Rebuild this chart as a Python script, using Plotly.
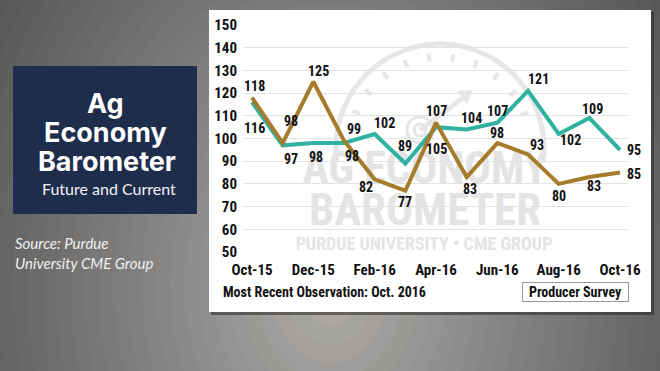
import plotly.graph_objects as go
import numpy as np

# ---------------- data ----------------
months = ["Oct-15", "Nov-15", "Dec-15", "Jan-16", "Feb-16", "Mar-16", "Apr-16",
          "May-16", "Jun-16", "Jul-16", "Aug-16", "Sep-16", "Oct-16"]
current = [118, 98, 125, 99, 82, 77, 107, 83, 98, 93, 80, 83, 85]
future = [116, 97, 98, 98, 102, 89, 105, 104, 107, 121, 102, 109, 95]
tick_labels = ["Oct-15", "Dec-15", "Feb-16", "Apr-16", "Jun-16", "Aug-16", "Oct-16"]
y_ticks = [50, 60, 70, 80, 90, 100, 110, 120, 130, 140, 150]

# label offsets in pixels (dx, dy-down), styling only
current_off = [(3, -12), (8, -22), (5, -11), (10, -12), (-9, 8), (0, 11), (0, -12),
               (3, 12), (0, -10), (9, -9), (0, 12), (5, 9), (14, 1)]
future_off = [(3, 26), (8, 14), (3, 14), (8, 13), (10, -11), (0, -17), (0, 22),
              (5, -11), (0, -12), (10, -12), (12, 6), (3, -9), (14, 0)]

TEAL = "#2fb3a0"
BROWN = "#a67c2c"
COND = "Liberation Sans Narrow, Roboto Condensed, DejaVu Sans Condensed, Roboto, sans-serif"

W, H = 660, 371
L, R, T, B = 243, 32, 25, 119
PW, PH = W - L - R, H - T - B
XR = [-0.293, 12.26]
YR = [50, 150]


def px(x):
    return (x - L) / PW


def py(y):
    return 1 - (y - T) / PH


def xd(x):
    return XR[0] + (x - L) / PW * (XR[1] - XR[0])


def yd(y):
    return YR[1] - (y - T) / PH * (YR[1] - YR[0])


xs = list(range(len(months)))

fig = go.Figure()

# watermark text (behind lines)
fig.add_trace(go.Scatter(
    x=[xd(425), xd(425), xd(424)], y=[yd(172), yd(214), yd(245)],
    text=["<b>AG ECONOMY</b>", "<b>BAROMETER</b>", "<b>PURDUE UNIVERSITY • CME GROUP</b>"],
    mode="text", textposition="middle center",
    textfont=dict(family=COND, size=[44, 45, 18], color="#e4e4e4"),
    hoverinfo="skip", showlegend=False, cliponaxis=False))

fig.add_trace(go.Scatter(x=xs, y=future, mode="lines", name="Future",
                         line=dict(color=TEAL, width=4), showlegend=False))
fig.add_trace(go.Scatter(x=xs, y=current, mode="lines", name="Current",
                         line=dict(color=BROWN, width=4), showlegend=False))

annotations = []
for series, offs in ((current, current_off), (future, future_off)):
    for i, v in enumerate(series):
        dx, dy = offs[i]
        annotations.append(dict(x=xs[i], y=v, xref="x", yref="y", text=f"<b>{v}</b>",
                                showarrow=False, xshift=dx, yshift=-dy,
                                xanchor="center", yanchor="middle",
                                font=dict(family=COND, size=14, color="#111")))


def ptext(x, y, text, font, xanchor="center", **kw):
    return dict(x=px(x), y=py(y), xref="paper", yref="paper", text=text, showarrow=False,
                xanchor=xanchor, yanchor="middle", font=font, **kw)


TF = dict(family="Inter, Lato, sans-serif", size=27, color="white")
SF = dict(family="Lato, sans-serif", size=15, color="#f0f0f0")
annotations += [
    ptext(105, 103, "<b>Ag</b>", TF),
    ptext(105, 132, "<b>Economy</b>", TF),
    ptext(107, 161, "<b>Barometer</b>", TF),
    ptext(109, 188, "Future and Current", dict(family="Lato, sans-serif", size=16, color="#f2f2f2")),
    ptext(13, 243, "<i>Source: Purdue</i>", SF, xanchor="left"),
    ptext(13, 263, "<i>University CME Group</i>", SF, xanchor="left"),
    ptext(221, 292, "<b>Most Recent Observation: Oct. 2016</b>",
          dict(family=COND, size=14, color="#111"), xanchor="left"),
    ptext(575.5, 291.7, "<b>Producer Survey</b>", dict(family=COND, size=14, color="#111"),
          width=105, height=18, borderpad=0, borderwidth=1, bordercolor="#9a9a9a", bgcolor="white"),
]

shapes = []
# radial background gradient
inner = np.array([0xb4, 0xb1, 0xae])
outer = np.array([0x52, 0x52, 0x52])
cx, cy, rx, ry = 330, 285, 430, 560
for d in np.linspace(1.5, 0.04, 45):
    t = min(d, 1.0) ** 0.9
    c = (inner * (1 - t) + outer * t).astype(int)
    shapes.append(dict(type="circle", xref="paper", yref="paper", layer="below",
                       x0=px(cx - rx * d), x1=px(cx + rx * d), y0=py(cy + ry * d), y1=py(cy - ry * d),
                       fillcolor=f"rgb({c[0]},{c[1]},{c[2]})", line=dict(width=0)))
# panel shadow and panel
shapes.append(dict(type="rect", xref="paper", yref="paper", layer="below",
                   x0=px(211), x1=px(654), y0=py(315), y1=py(12),
                   fillcolor="rgba(40,40,40,0.55)", line=dict(width=0)))
shapes.append(dict(type="rect", xref="paper", yref="paper", layer="below",
                   x0=px(209), x1=px(651), y0=py(312), y1=py(10),
                   fillcolor="white", line=dict(width=0)))
# navy title box
shapes.append(dict(type="rect", xref="paper", yref="paper", layer="below",
                   x0=px(13), x1=px(197), y0=py(214), y1=py(66),
                   fillcolor="#1f2d4d", line=dict(width=0)))

# gauge watermark
GC = "#e6e6e6"
gx, gy, gr = 440, 148, 104
ang = np.radians(np.linspace(-8, 188, 60))
pts = [(px(gx + gr * np.cos(a)), py(gy - gr * np.sin(a))) for a in ang]
path = "M " + " L ".join(f"{a:.5f},{b:.5f}" for a, b in pts)
shapes.append(dict(type="path", xref="paper", yref="paper", layer="below", path=path,
                   line=dict(color=GC, width=5)))
for a in np.radians([157, 142, 127, 112, 97, 82, 67, 52, 37, 22]):
    shapes.append(dict(type="line", xref="paper", yref="paper", layer="below",
                       x0=px(gx + 87 * np.cos(a)), y0=py(gy - 87 * np.sin(a)),
                       x1=px(gx + 95 * np.cos(a)), y1=py(gy - 95 * np.sin(a)),
                       line=dict(color=GC, width=4)))
shapes.append(dict(type="line", xref="paper", yref="paper", layer="below",
                   x0=px(420), y0=py(130), x1=px(463), y1=py(98), line=dict(color=GC, width=5)))
shapes.append(dict(type="path", xref="paper", yref="paper", layer="below",
                   path=f"M {px(473):.5f},{py(90):.5f} L {px(467):.5f},{py(104):.5f} L {px(457):.5f},{py(91):.5f} Z",
                   fillcolor=GC, line=dict(width=0)))
for rr in (6, 13):
    shapes.append(dict(type="circle", xref="paper", yref="paper", layer="below",
                       x0=px(420 - rr), x1=px(420 + rr), y0=py(130 + rr), y1=py(130 - rr),
                       line=dict(color=GC, width=3)))

fig.update_layout(
    width=W, height=H,
    margin=dict(l=L, r=R, t=T, b=B, pad=0),
    paper_bgcolor="rgb(82,82,82)",
    plot_bgcolor="rgba(0,0,0,0)",
    showlegend=False,
    shapes=shapes,
    annotations=annotations,
    xaxis=dict(range=XR, tickmode="array", tickvals=[months.index(m) for m in tick_labels],
               ticktext=[f"<b>{m}</b>" for m in tick_labels], showgrid=False, zeroline=False,
               showline=False, ticks="", ticklabelstandoff=7,
               tickfont=dict(family=COND, size=15, color="#111"), fixedrange=True),
    yaxis=dict(range=YR, tickmode="array", tickvals=y_ticks,
               ticktext=[f"<b>{v}</b>" for v in y_ticks], showgrid=True, gridcolor="#e3e3e3",
               gridwidth=1, zeroline=False, showline=False, ticks="", ticklabelstandoff=5,
               tickfont=dict(family=COND, size=15, color="#111"), fixedrange=True),
)

fig.write_html("out.html", config={"displayModeBar": False},
               post_script="document.body.style.margin='0';document.body.style.background='rgb(82,82,82)';")
